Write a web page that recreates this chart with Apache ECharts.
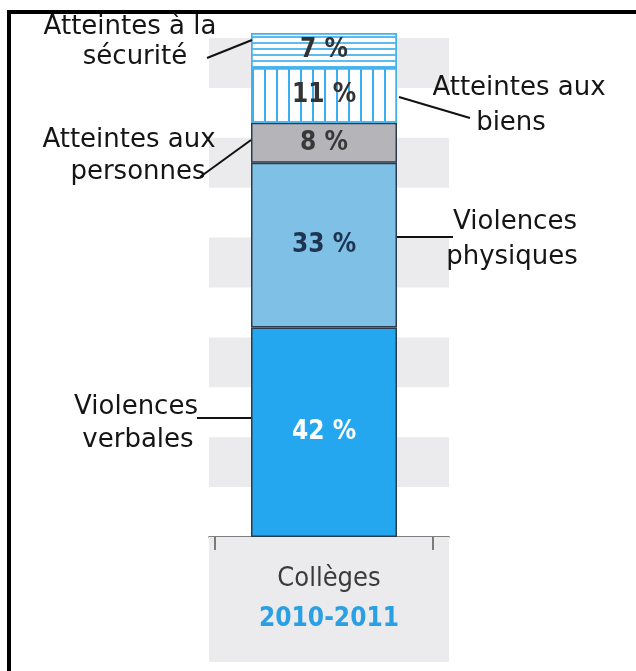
<!DOCTYPE html>
<html><head><meta charset="utf-8">
<script src="https://cdn.jsdelivr.net/npm/echarts@6/dist/echarts.min.js"></script>
<style>html,body{margin:0;padding:0;background:#fff}#c{width:636px;height:671px}</style>
</head><body><div id="c"></div>
<script>
// ---- data ----
const categories = ['Collèges'];
const periods = ['2010-2011'];
const seriesNames = ['Violences verbales', 'Violences physiques', 'Atteintes aux personnes', 'Atteintes aux biens', 'Atteintes à la sécurité'];
const verbales = [42];
const physiques = [33];
const personnes = [8];
const biens = [11];
const securite = [7];
const yMin = 0, yMax = 101, yInterval = 10;

// ---- style ----
const NARROW = '"Liberation Sans Narrow", "DejaVu Sans Condensed", sans-serif';
const SANS = '"DejaVu Sans", sans-serif';

function seg(name, data, color, labelColor, borderColor, decal) {
  const s = {
    name, type: 'bar', stack: 'total', data, barWidth: 146, barGap: '0%',
    itemStyle: { color, borderColor, borderWidth: 1.5 },
    label: { show: true, position: 'inside', formatter: '{c} %', color: labelColor,
      fontFamily: NARROW, fontWeight: 'bold', fontSize: 26 }
  };
  if (decal) s.itemStyle.decal = decal;
  return s;
}

const chart = echarts.init(document.getElementById('c'), null, { renderer: 'canvas' });
const txt = (text, x, y) => ({ type: 'text', z: 100, style: { text, x, y, font: '26px ' + SANS, fill: '#151515', textAlign: 'center', textVerticalAlign: 'middle' } });
const ln = (x1, y1, x2, y2) => ({ type: 'line', z: 100, shape: { x1, y1, x2, y2 }, style: { stroke: '#111', lineWidth: 2 } });

chart.setOption({
  animation: false,
  backgroundColor: '#fff',
  grid: { left: 209, right: 187, top: 33, bottom: 134 },
  xAxis: {
    type: 'category', data: categories,
    axisLine: { lineStyle: { color: '#555', width: 1.5 } },
    axisTick: { show: false },
    axisLabel: {
      margin: 0, interval: 0,
      formatter: (v, i) => '{a|' + v + '}\n{b|' + periods[i] + '}',
      backgroundColor: '#ebebed', width: 240, padding: [22, 0, 23, 0], align: 'center',
      rich: {
        a: { fontFamily: NARROW, fontSize: 27, color: '#3a3a3a', lineHeight: 40, align: 'center' },
        b: { fontFamily: NARROW, fontSize: 26, fontWeight: 'bold', color: '#2a9fe3', lineHeight: 40, align: 'center' }
      }
    }
  },
  yAxis: {
    type: 'value', min: yMin, max: yMax, interval: yInterval,
    axisLine: { show: false }, axisTick: { show: false }, axisLabel: { show: false },
    splitLine: { show: false },
    splitArea: { show: true, areaStyle: { color: ['rgba(255,255,255,0)', '#ebebed'] } }
  },
  series: [
    seg(seriesNames[0], verbales, '#24a7ef', '#ffffff', '#2b3c4e'),
    seg(seriesNames[1], physiques, '#7fc0e6', '#1d3550', '#2b3c4e'),
    seg(seriesNames[2], personnes, '#b4b4b9', '#383838', '#2b3c4e'),
    seg(seriesNames[3], biens, '#ffffff', '#333333', '#45b2ee',
      { symbol: 'rect', color: '#3aaeee', dashArrayX: [2, 10], dashArrayY: [4, 0], symbolSize: 1 }),
    seg(seriesNames[4], securite, '#ffffff', '#333333', '#45b2ee',
      { symbol: 'rect', color: '#5cbcf0', dashArrayX: [4, 0], dashArrayY: [1.5, 3.5], symbolSize: 1 }),
    // empty spacer column: shifts the stacked column slightly left of the category centre, as in the original
    { type: 'bar', stack: 'spacer', data: [], barWidth: 10, barGap: '0%', silent: true }
  ],
  graphic: [
    { type: 'line', z: 100, shape: { x1: 7, y1: 12, x2: 636, y2: 12 }, style: { stroke: '#000', lineWidth: 4 } },
    { type: 'line', z: 100, shape: { x1: 9, y1: 10, x2: 9, y2: 671 }, style: { stroke: '#000', lineWidth: 4 } },
    { type: 'line', z: 100, shape: { x1: 215, y1: 537, x2: 215, y2: 550 }, style: { stroke: '#555', lineWidth: 1.5 } },
    { type: 'line', z: 100, shape: { x1: 433, y1: 537, x2: 433, y2: 550 }, style: { stroke: '#555', lineWidth: 1.5 } },
    txt('Atteintes à la', 130, 27), txt('sécurité', 135, 57), ln(207, 58, 252, 40),
    txt('Atteintes aux', 519, 88), txt('biens', 511, 123), ln(399, 97, 470, 118),
    txt('Atteintes aux', 129, 140), txt('personnes', 138, 172), ln(200, 177, 251, 140),
    txt('Violences', 515, 222), txt('physiques', 512, 257), ln(397, 237, 453, 237),
    txt('Violences', 136, 407), txt('verbales', 138, 440), ln(197, 418, 251, 418)
  ]
});
</script></body></html>
